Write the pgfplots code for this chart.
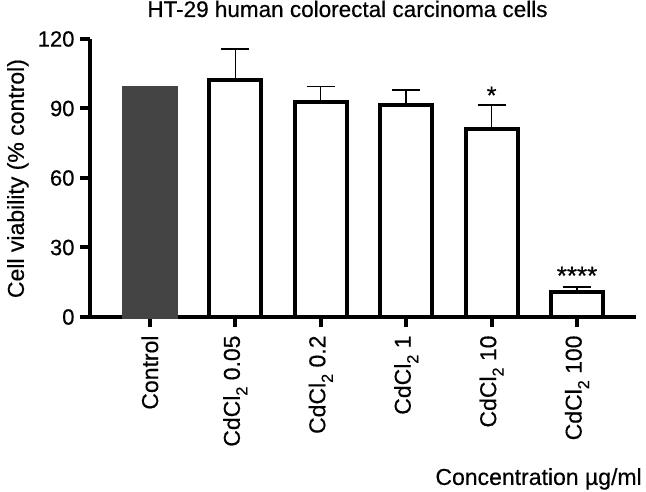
\documentclass[border=0pt]{standalone}
\usepackage{fontspec}
\setmainfont{Liberation Sans}[FakeBold=0.4]
\usepackage{pgfplots}
\pgfplotsset{compat=1.18}
\definecolor{ctrlgray}{HTML}{444444}
\newcommand{\sub}[1]{\raisebox{-7.5pt}{\fontsize{16}{18}\selectfont #1}}
\begin{document}
\begin{tikzpicture}
\path[use as bounding box] (-90pt,-175pt) rectangle (556pt,317pt);
\begin{axis}[
  at={(0pt,0pt)}, anchor=south west,
  width=546pt, height=278pt, scale only axis,
  xmin=-0.7, xmax=5.69, ymin=0, ymax=120,
  axis x line=bottom, axis y line=left,
  axis line style={-, line width=4pt, black},
  ytick={0,30,60,90,120},
  xtick={0,1,2,3,4,5},
  xticklabels={Control, CdCl\sub{2} 0.05, CdCl\sub{2} 0.2, CdCl\sub{2} 1, CdCl\sub{2} 10, CdCl\sub{2} 100},
  tick align=outside, major tick length=10pt,
  tick style={line width=4pt, black},
  xticklabel shift=5pt,
  yticklabel shift=2pt,
  xticklabel style={rotate=90, anchor=east, font=\fontsize{23}{27}\selectfont},
  yticklabel style={font=\fontsize{22}{26}\selectfont},
  /pgf/number format/assume math mode=true,
  title={HT-29 human colorectal carcinoma cells},
  title style={font=\fontsize{22.5}{27}\selectfont, at={(axis description cs:0.4716,1.0576)}, anchor=base},
  ylabel={Cell viability (\% control)},
  ylabel style={font=\fontsize{23}{27}\selectfont, at={(axis description cs:-0.132,0.498)}, anchor=center},
  xlabel={Concentration µg/ml},
  xlabel style={font=\fontsize{23}{27}\selectfont, at={(axis description cs:1.017,-0.604)}, anchor=base east},
  clip=false,
]
\addplot[ybar, bar shift=0pt, bar width=52pt, fill=ctrlgray, draw=ctrlgray, line width=4pt]
  coordinates {(0,98.9)};
\addplot[ybar, bar shift=0pt, bar width=52pt, fill=white, draw=black, line width=4pt,
  error bars/.cd, y dir=plus, y explicit,
  error bar style={line width=1.5pt, black},
  error mark options={rotate=90, mark size=14pt, line width=1.5pt, black}]
  coordinates {
    (1,102.1) +- (0,13.6)
    (2,92.8) +- (0,6.6)
    (3,91.6) +- (0,6.4)
    (4,81.1) +- (0,10.4)
    (5,10.6) +- (0,2.3)
  };
\node[anchor=base, font=\fontsize{25}{29}\selectfont] at (axis cs:4,92.0) {*};
\node[anchor=base, font=\fontsize{26}{30}\selectfont] at (axis cs:5,14.0) {****};
\end{axis}
\end{tikzpicture}
\end{document}
